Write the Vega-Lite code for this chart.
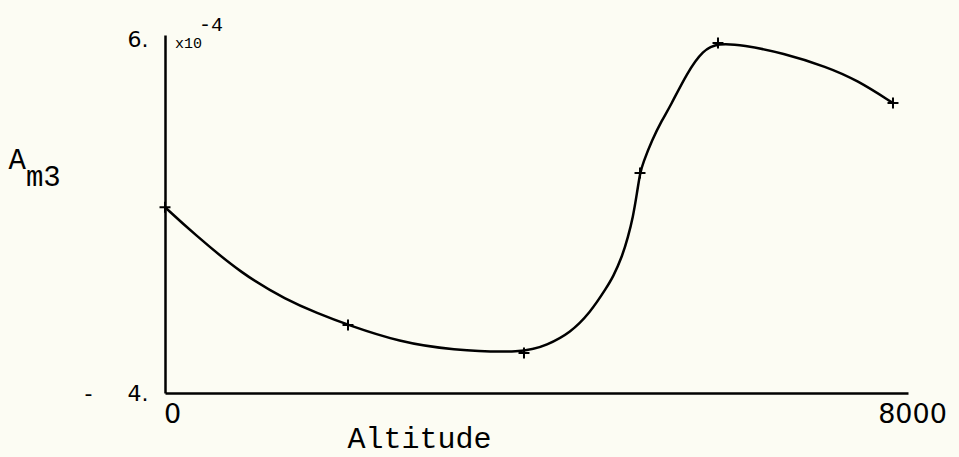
{
  "$schema": "https://vega.github.io/schema/vega-lite/v6.json",
  "width": 743,
  "height": 358,
  "autosize": {"type": "none"},
  "padding": {"left": 165, "top": 35, "right": 51, "bottom": 64},
  "background": "#fcfcf3",
  "config": {
    "view": {"stroke": null},
    "axis": {"grid": false, "ticks": false, "domainColor": "black", "domainWidth": 2.5, "labelColor": "black", "titleColor": "black"}
  },
  "title": {
    "text": "\u200b\u00a0\u00a0-4",
    "subtitle": "x10",
    "anchor": "start",
    "frame": "group",
    "font": "Liberation Mono",
    "fontSize": 20,
    "fontWeight": "normal",
    "color": "black",
    "subtitleFont": "Liberation Mono",
    "subtitleFontSize": 15,
    "subtitleColor": "black",
    "subtitlePadding": 1,
    "dx": 10,
    "dy": 23,
    "offset": 0
  },
  "datasets": {
    "curve": [
      {"alt": 0, "a": 5.05},
      {"alt": 308, "a": 4.904},
      {"alt": 857, "a": 4.667},
      {"alt": 1341, "a": 4.525},
      {"alt": 1670, "a": 4.452},
      {"alt": 2011, "a": 4.384},
      {"alt": 2582, "a": 4.288},
      {"alt": 3132, "a": 4.243},
      {"alt": 3945, "a": 4.226},
      {"alt": 4198, "a": 4.271},
      {"alt": 4451, "a": 4.339},
      {"alt": 4670, "a": 4.452},
      {"alt": 4857, "a": 4.599},
      {"alt": 4923, "a": 4.655},
      {"alt": 5022, "a": 4.768},
      {"alt": 5088, "a": 4.881},
      {"alt": 5143, "a": 4.994},
      {"alt": 5187, "a": 5.13},
      {"alt": 5220, "a": 5.243},
      {"alt": 5253, "a": 5.299},
      {"alt": 5352, "a": 5.429},
      {"alt": 5462, "a": 5.542},
      {"alt": 5549, "a": 5.616},
      {"alt": 5736, "a": 5.808},
      {"alt": 5912, "a": 5.938},
      {"alt": 6077, "a": 5.977},
      {"alt": 6352, "a": 5.966},
      {"alt": 6791, "a": 5.921},
      {"alt": 7275, "a": 5.842},
      {"alt": 7604, "a": 5.768},
      {"alt": 8000, "a": 5.638}
    ],
    "markers": [
      {"alt": 0, "a": 5.05},
      {"alt": 2011, "a": 4.384},
      {"alt": 3945, "a": 4.226},
      {"alt": 5220, "a": 5.243},
      {"alt": 6077, "a": 5.977},
      {"alt": 8000, "a": 5.638}
    ]
  },
  "encoding": {
    "x": {
      "field": "alt",
      "type": "quantitative",
      "scale": {"domain": [0, 8165], "nice": false, "zero": false},
      "axis": {
        "values": [0, 8000],
        "labelExpr": "datum.value === 8000 ? '8000' : '0'",
        "labelFont": "DejaVu Sans",
        "labelFontSize": 27,
        "labelPadding": 8,
        "labelAlign": "center",
        "labelOffset": {"condition": {"test": "datum.value === 8000", "value": 19}, "value": 7},
        "title": "Altitude",
        "titleFont": "Liberation Mono",
        "titleFontSize": 30,
        "titleFontWeight": "normal",
        "titleAlign": "center",
        "titleBaseline": "alphabetic",
        "titleX": 254,
        "titleY": 54
      }
    },
    "y": {
      "field": "a",
      "type": "quantitative",
      "scale": {"domain": [4, 6.0226], "nice": false, "zero": false},
      "axis": {
        "values": [4, 6],
        "labelExpr": "datum.value === 6 ? '6.' : '-\u00a0\u00a0\u00a0\u00a0\u00a04.'",
        "labelFont": "DejaVu Sans",
        "labelFontSize": 22,
        "labelPadding": 17,
        "title": ["A", "\u200b\u00a0m3"],
        "titleFont": "Liberation Mono",
        "titleFontSize": 29,
        "titleFontWeight": "normal",
        "titleAngle": 0,
        "titleAlign": "left",
        "titleBaseline": "alphabetic",
        "titleLineHeight": 17,
        "titleX": -157,
        "titleY": 133
      }
    }
  },
  "layer": [
    {
      "data": {"name": "curve"},
      "mark": {"type": "line", "color": "black", "strokeWidth": 2.5, "interpolate": "basis"}
    },
    {
      "data": {"name": "markers"},
      "mark": {"type": "point", "shape": "M-1,0L1,0M0,-1L0,1", "size": 120, "filled": false, "stroke": "black", "strokeWidth": 2, "opacity": 1}
    }
  ]
}
